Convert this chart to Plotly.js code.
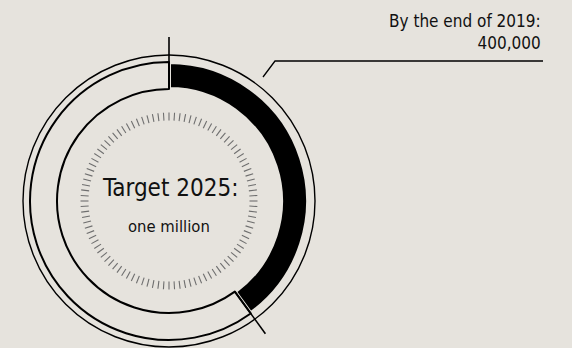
<!DOCTYPE html>
<html>
<head>
<meta charset="utf-8">
<script src="https://cdn.plot.ly/plotly-3.0.1.min.js"></script>
<style>html,body{margin:0;padding:0;background:#e6e3dd;}#chart{width:572px;height:348px;}</style>
</head>
<body>
<div id="chart"></div>
<script>
// ---- data ----
const categories = ['By the end of 2019', 'Remaining to target'];
const values = [400000, 600000];
const targetValue = 1000000;
const centerTitle = 'Target 2025:';
const centerSub = 'one million';
const calloutLine1 = 'By the end of 2019:';
const calloutLine2 = '400,000';
const tickCount = 100;

// ---- geometry / style ----
const W = 572, H = 348;
const BG = '#e6e3dd';
const FONT = '"DejaVu Sans Condensed", "Liberation Sans Narrow", sans-serif';
const cx = 169, cy = 201;          // centre in px (from top-left)
const rDonut = 139, rHole = 112;
const rOuter = 146;
const rTicks = 89;
const px = x => x / W;
const py = y => 1 - y / H;

function pt(angleDeg, r) {
  const a = angleDeg * Math.PI / 180;
  return [cx + r * Math.sin(a), cy - r * Math.cos(a)];
}

const total = values.reduce((a, b) => a + b, 0);

const pie = {
  type: 'pie',
  values: values,
  labels: categories,
  sort: false,
  direction: 'clockwise',
  rotation: 0,
  hole: rHole / rDonut,
  textinfo: 'none',
  hoverinfo: 'label+value',
  marker: {
    colors: ['#000000', BG],
    line: { color: [BG, '#000000'], width: [4, 2] }
  },
  domain: {
    x: [px(cx - rDonut), px(cx + rDonut)],
    y: [py(cy + rDonut), py(cy - rDonut)]
  },
  showlegend: false
};

const tickHost = {
  type: 'scatterpolar',
  subplot: 'polar',
  r: [0], theta: [0],
  mode: 'markers',
  marker: { opacity: 0 },
  hoverinfo: 'skip',
  showlegend: false
};

// divider lines at boundaries between slices
const shapes = [];
let cum = 0;
const boundaries = [0];
values.forEach((v, i) => { cum += v; if (i < values.length - 1) boundaries.push(cum); });
boundaries.forEach(b => {
  const ang = 360 * b / total;
  const p0 = pt(ang, rHole);
  const p1 = pt(ang, 164);
  shapes.push({
    type: 'line', xref: 'paper', yref: 'paper',
    x0: px(p0[0]), y0: py(p0[1]), x1: px(p1[0]), y1: py(p1[1]),
    line: { color: '#000', width: 1.6 }
  });
});
// outer thin circle
shapes.push({
  type: 'circle', xref: 'paper', yref: 'paper',
  x0: px(cx - rOuter), x1: px(cx + rOuter), y0: py(cy + rOuter), y1: py(cy - rOuter),
  line: { color: '#000', width: 1.4 }
});
// callout leader line
shapes.push({
  type: 'path', xref: 'paper', yref: 'paper',
  path: 'M ' + px(543) + ',' + py(61) + ' L ' + px(275) + ',' + py(61) + ' L ' + px(263) + ',' + py(77),
  line: { color: '#000', width: 1.3 }
});

const layout = {
  width: W, height: H,
  margin: { l: 0, r: 0, t: 0, b: 0 },
  paper_bgcolor: BG, plot_bgcolor: BG,
  showlegend: false,
  polar: {
    domain: { x: [px(cx - rTicks), px(cx + rTicks)], y: [py(cy + rTicks), py(cy - rTicks)] },
    bgcolor: 'rgba(0,0,0,0)',
    radialaxis: { visible: false, range: [0, 1] },
    angularaxis: {
      rotation: 90, direction: 'clockwise',
      tickmode: 'linear', tick0: 0, dtick: 360 / tickCount,
      ticks: 'inside', ticklen: 8, tickwidth: 1.1, tickcolor: '#6e6e6e',
      showticklabels: false, showline: false, showgrid: false
    }
  },
  shapes: shapes,
  annotations: [
    { text: centerTitle, xref: 'paper', yref: 'paper', x: px(cx + 1), y: py(188),
      xanchor: 'center', yanchor: 'middle', showarrow: false,
      font: { family: FONT, size: 24, color: '#111' } },
    { text: centerSub, xref: 'paper', yref: 'paper', x: px(cx), y: py(226),
      xanchor: 'center', yanchor: 'middle', showarrow: false,
      font: { family: FONT, size: 16.5, color: '#111' } },
    { text: calloutLine1 + '<br>' + calloutLine2, xref: 'paper', yref: 'paper',
      x: px(543), y: py(9), xanchor: 'right', yanchor: 'top', align: 'right', showarrow: false,
      font: { family: FONT, size: 17, color: '#111' } }
  ]
};

Plotly.newPlot('chart', [pie, tickHost], layout, { displayModeBar: false, staticPlot: true });
</script>
</body>
</html>
